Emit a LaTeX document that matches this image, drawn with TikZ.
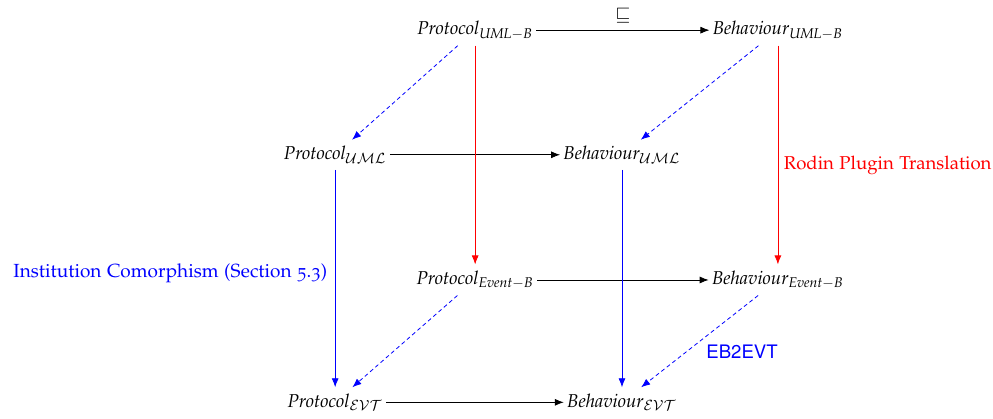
\documentclass[tikz,border=0pt]{standalone}
\usepackage[T1]{fontenc}
\usepackage[osf]{mathpazo}
\usepackage[scaled=1]{helvet}
\usepackage{amsmath,amssymb}
\usepackage{tikz}
\usetikzlibrary{arrows.meta,positioning}
\newcommand{\Prot}[1]{\mathit{Protocol}_{#1}}
\newcommand{\Behav}[1]{\mathit{Behaviour}_{#1}}
\tikzset{obj/.style={inner xsep=1.5pt,inner ysep=3pt},note/.style={font=\fontsize{9.5pt}{11pt}\selectfont},map/.style={-{Latex[length=4.5pt,width=3.5pt]},draw=black},trans/.style={map,draw=red},com/.style={map,draw=blue},enc/.style={map,draw=blue,dash pattern=on 2pt off 1.5pt}}

\begin{document}
\begin{tikzpicture}[font=\fontsize{9.3pt}{11pt}\selectfont]
\useasboundingbox (0,0) rectangle (17.45,-7.36);
\node[obj] (pub) at (8.35,-0.53) {$\Prot{\mathit{UML}-\mathit{B}}$};
\node[obj] (bub) at (13.67,-0.53) {$\Behav{\mathit{UML}-\mathit{B}}$};
\node[obj] (pu) at (5.89,-2.72) {$\Prot{\mathcal{UML}}$};
\node[obj] (bu) at (10.93,-2.72) {$\Behav{\mathcal{UML}}$};
\node[obj] (peb) at (8.35,-4.92) {$\Prot{\mathit{Event}-\mathit{B}}$};
\node[obj] (beb) at (13.67,-4.92) {$\Behav{\mathit{Event}-\mathit{B}}$};
\node[obj] (pe) at (5.89,-7.07) {$\Prot{\mathcal{EVT}}$};
\node[obj] (be) at (10.93,-7.07) {$\Behav{\mathcal{EVT}}$};
% refinement
\draw[map] (pub)--(bub) node[midway,above] {$\sqsubseteq$};
\draw[map] (pu)--(bu);
\draw[map] (peb)--(beb);
\draw[map] (pe)--(be);
% rodin translation
\draw[trans] (pub)--(peb);
\draw[trans] (bub)--(beb);
% comorphism
\draw[com] (pu)--(pe);
\draw[com] (bu)--(be);
% dashed
\draw[enc] (pub)--(pu);
\draw[enc] (bub)--(bu);
\draw[enc] (peb)--(pe);
\draw[enc] (beb)--(be);
\node[text=red,anchor=west] (rodin) at (13.65,-2.90) {Rodin Plugin Translation};
\node[note,text=blue,anchor=east] (inst) at (5.875,-4.81) {Institution Comorphism (Section 5.3)};
\node[text=blue,font=\sffamily\fontsize{9.3pt}{11pt}\selectfont] (eb2evt) at (13.04,-6.19) {EB2EVT};
\end{tikzpicture}
\end{document}
